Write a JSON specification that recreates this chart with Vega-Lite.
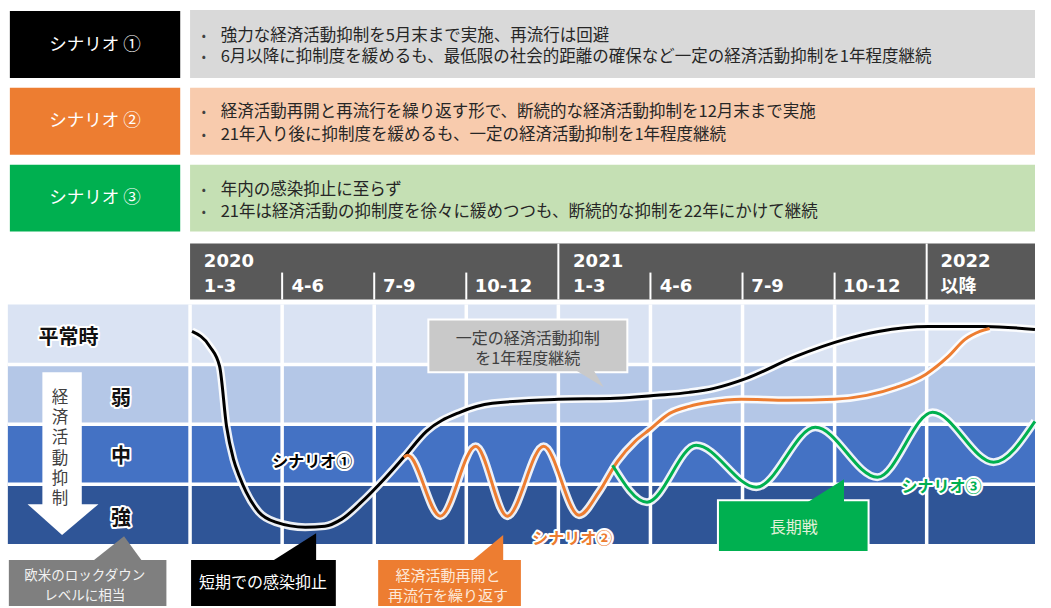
{
"$schema":"https://vega.github.io/schema/vega-lite/v6.json",
"width":1051,"height":608,
"autosize":{"type":"fit","contains":"padding"},
"padding":0,
"background":"#ffffff",
"config":{"view":{"stroke":null},"font":"Noto Sans CJK JP"},
"encoding":{
 "x":{"field":"q","type":"quantitative","scale":{"domain":[-2.0642,9.1765],"nice":false,"zero":false},"axis":null},
 "y":{"field":"lv","type":"quantitative","scale":{"domain":[-1.05,9.0833],"nice":false,"zero":false},"axis":null}
},
"layer":[
 {"data":{"values":[
  {"part":"lab1","q":-1.957,"q2":-0.107,"lv":7.783,"lv2":8.9},
  {"part":"desc1","q":0,"q2":9.1765,"lv":7.783,"lv2":8.917},
  {"part":"lab2","q":-1.957,"q2":-0.107,"lv":6.5,"lv2":7.617},
  {"part":"desc2","q":0,"q2":9.1765,"lv":6.5,"lv2":7.617},
  {"part":"lab3","q":-1.957,"q2":-0.107,"lv":5.217,"lv2":6.333},
  {"part":"desc3","q":0,"q2":9.1765,"lv":5.217,"lv2":6.333},
  {"part":"header","q":0,"q2":9.1765,"lv":4.083,"lv2":5.017},
  {"part":"band1","q":-1.979,"q2":9.1765,"lv":0,"lv2":1},
  {"part":"band2","q":-1.979,"q2":9.1765,"lv":1,"lv2":2},
  {"part":"band3","q":-1.979,"q2":9.1765,"lv":2,"lv2":3},
  {"part":"band4","q":-1.979,"q2":9.1765,"lv":3,"lv2":4}
 ]},
 "mark":{"type":"rect"},
 "encoding":{"x2":{"field":"q2"},"y2":{"field":"lv2"},
  "fill":{"field":"part","type":"nominal","legend":null,"scale":{
   "domain":["lab1","lab2","lab3","desc1","desc2","desc3","header","band1","band2","band3","band4","noteA","noteB","noteC","noteD","noteE"],
   "range":["#000000","#ed7d31","#00b050","#d9d9d9","#f8cbad","#c5e0b4","#595959","#2f5597","#4472c4","#b4c7e7","#dae3f3","#c9c9c9","#7f7f7f","#000000","#ed7d31","#00b050"]}}}},
 {"data":{"values":[
  {"q":0,"q2":0,"lv":0,"lv2":4},{"q":1,"q2":1,"lv":0,"lv2":4},{"q":2,"q2":2,"lv":0,"lv2":4},
  {"q":3,"q2":3,"lv":0,"lv2":4},{"q":4,"q2":4,"lv":0,"lv2":4},{"q":5,"q2":5,"lv":0,"lv2":4},
  {"q":6,"q2":6,"lv":0,"lv2":4},{"q":7,"q2":7,"lv":0,"lv2":4},{"q":8,"q2":8,"lv":0,"lv2":4},
  {"q":-1.979,"q2":9.1765,"lv":1,"lv2":1},{"q":-1.979,"q2":9.1765,"lv":2,"lv2":2},{"q":-1.979,"q2":9.1765,"lv":3,"lv2":3}
 ]},
 "mark":{"type":"rule","color":"#ffffff","strokeWidth":3.5},
 "encoding":{"x2":{"field":"q2"},"y2":{"field":"lv2"}}},
 {"data":{"values":[
  {"q":1,"q2":1,"lv":4.083,"lv2":4.533},{"q":2,"q2":2,"lv":4.083,"lv2":4.533},{"q":3,"q2":3,"lv":4.083,"lv2":4.533},
  {"q":5,"q2":5,"lv":4.083,"lv2":4.533},{"q":6,"q2":6,"lv":4.083,"lv2":4.533},{"q":7,"q2":7,"lv":4.083,"lv2":4.533},
  {"q":4,"q2":4,"lv":4.083,"lv2":5.017},{"q":8,"q2":8,"lv":4.083,"lv2":5.017}
 ]},
 "mark":{"type":"rule","color":"#ffffff","strokeWidth":2},
 "encoding":{"x2":{"field":"q2"},"y2":{"field":"lv2"}}},
 {"data":{"values":[{"q":-1.604,"q2":-1.176,"lv":0.65,"lv2":2.867}]},
 "mark":{"type":"rect","color":"#ffffff"},
 "encoding":{"x2":{"field":"q2"},"y2":{"field":"lv2"}}},
 {"data":{"values":[{"q":-1.765,"q2":-0.995,"lv":0.667},{"q":-1.39,"q2":-1.39,"lv":0.15}]},
 "mark":{"type":"area","orient":"horizontal","color":"#ffffff"},
 "encoding":{"x2":{"field":"q2"}}},
 {"data":{"values":[
  {"q":-1.032,"lv":8.333,"t":"シナリオ ①"},{"q":-1.032,"lv":7.058,"t":"シナリオ ②"},{"q":-1.032,"lv":5.775,"t":"シナリオ ③"}
 ]},
 "mark":{"type":"text","color":"#ffffff","fontSize":17.5,"align":"center","baseline":"middle"},
 "encoding":{"text":{"field":"t"}}},
 {"data":{"values":[
  {"q":0.15,"lv":8.483},{"q":0.15,"lv":8.125},{"q":0.15,"lv":7.208},{"q":0.15,"lv":6.833},{"q":0.15,"lv":5.908},{"q":0.15,"lv":5.542}
 ]},
 "mark":{"type":"text","color":"#404040","fontSize":12,"align":"center","baseline":"middle","text":"•"}},
 {"data":{"values":[
  {"q":0.332,"lv":8.483,"t":"強力な経済活動抑制を5月末まで実施、再流行は回避"},
  {"q":0.332,"lv":8.125,"t":"6月以降に抑制度を緩めるも、最低限の社会的距離の確保など一定の経済活動抑制を1年程度継続"},
  {"q":0.332,"lv":7.208,"t":"経済活動再開と再流行を繰り返す形で、断続的な経済活動抑制を12月末まで実施"},
  {"q":0.332,"lv":6.833,"t":"21年入り後に抑制度を緩めるも、一定の経済活動抑制を1年程度継続"},
  {"q":0.332,"lv":5.908,"t":"年内の感染抑止に至らず"},
  {"q":0.332,"lv":5.542,"t":"21年は経済活動の抑制度を徐々に緩めつつも、断続的な抑制を22年にかけて継続"}
 ]},
 "mark":{"type":"text","color":"#262626","fontSize":16.5,"align":"left","baseline":"middle"},
 "encoding":{"text":{"field":"t"}}},
 {"data":{"values":[
  {"q":0.15,"lv":4.717,"t":"2020"},{"q":4.16,"lv":4.717,"t":"2021"},{"q":8.15,"lv":4.717,"t":"2022"},
  {"q":0.15,"lv":4.3,"t":"1-3"},{"q":1.102,"lv":4.3,"t":"4-6"},{"q":2.096,"lv":4.3,"t":"7-9"},{"q":3.091,"lv":4.3,"t":"10-12"},
  {"q":4.16,"lv":4.3,"t":"1-3"},{"q":5.102,"lv":4.3,"t":"4-6"},{"q":6.096,"lv":4.3,"t":"7-9"},{"q":7.091,"lv":4.3,"t":"10-12"},
  {"q":8.15,"lv":4.3,"t":"以降"}
 ]},
 "mark":{"type":"text","color":"#ffffff","fontSize":18,"fontWeight":"bold","font":"DejaVu Sans, Noto Sans CJK JP","align":"left","baseline":"middle"},
 "encoding":{"text":{"field":"t"}}},
 {"data":{"values":[
  {"q":-1.321,"lv":3.433,"t":"平常時"},{"q":-0.749,"lv":2.417,"t":"弱"},{"q":-0.749,"lv":1.45,"t":"中"},{"q":-0.749,"lv":0.417,"t":"強"}
 ]},
 "mark":{"type":"text","color":"#ffffff","stroke":"#ffffff","strokeWidth":4,"strokeJoin":"round","fontSize":20,"fontWeight":"bold","align":"center","baseline":"middle"},
 "encoding":{"text":{"field":"t"}}},
 {"data":{"values":[
  {"q":-1.321,"lv":3.433,"t":"平常時"},{"q":-0.749,"lv":2.417,"t":"弱"},{"q":-0.749,"lv":1.45,"t":"中"},{"q":-0.749,"lv":0.417,"t":"強"}
 ]},
 "mark":{"type":"text","color":"#111111","fontSize":20,"fontWeight":"bold","align":"center","baseline":"middle"},
 "encoding":{"text":{"field":"t"}}},
 {"data":{"values":[{"q":-1.412,"lv":2.442,"t":"経\n済\n活\n動\n抑\n制"}]},
 "mark":{"type":"text","color":"#404040","fontSize":16.5,"align":"center","baseline":"middle","lineBreak":"\n","lineHeight":20.3},
 "encoding":{"text":{"field":"t"}}},
 {"data":{"name":"curves","values":[
  {"s":"シナリオ①","q":0.021,"lv":3.55},{"s":"シナリオ①","q":0.214,"lv":3.3},{"s":"シナリオ①","q":0.321,"lv":2.967},
  {"s":"シナリオ①","q":0.396,"lv":1.967},{"s":"シナリオ①","q":0.471,"lv":1.417},{"s":"シナリオ①","q":0.535,"lv":1.133},
  {"s":"シナリオ①","q":0.61,"lv":0.867},{"s":"シナリオ①","q":0.749,"lv":0.533},{"s":"シナリオ①","q":0.93,"lv":0.367},
  {"s":"シナリオ①","q":1.251,"lv":0.283},{"s":"シナリオ①","q":1.465,"lv":0.3},{"s":"シナリオ①","q":1.647,"lv":0.417},
  {"s":"シナリオ①","q":1.861,"lv":0.7},{"s":"シナリオ①","q":2.107,"lv":1.083},{"s":"シナリオ①","q":2.321,"lv":1.45},
  {"s":"シナリオ①","q":2.567,"lv":1.883},{"s":"シナリオ①","q":2.93,"lv":2.2},{"s":"シナリオ①","q":3.283,"lv":2.35},
  {"s":"シナリオ①","q":4.0,"lv":2.417},{"s":"シナリオ①","q":4.62,"lv":2.433},{"s":"シナリオ①","q":5.07,"lv":2.483},
  {"s":"シナリオ①","q":5.422,"lv":2.533},{"s":"シナリオ①","q":5.69,"lv":2.6},{"s":"シナリオ①","q":6.043,"lv":2.767},
  {"s":"シナリオ①","q":6.578,"lv":3.133},{"s":"シナリオ①","q":7.112,"lv":3.417},{"s":"シナリオ①","q":7.476,"lv":3.55},
  {"s":"シナリオ①","q":8.021,"lv":3.633},{"s":"シナリオ①","q":8.631,"lv":3.633},{"s":"シナリオ①","q":9.176,"lv":3.583},
  {"s":"シナリオ②","q":2.321,"lv":1.45},{"s":"シナリオ②","q":2.364,"lv":1.483},{"s":"シナリオ②","q":2.717,"lv":0.467},
  {"s":"シナリオ②","q":3.102,"lv":1.633},{"s":"シナリオ②","q":3.444,"lv":0.467},{"s":"シナリオ②","q":3.84,"lv":1.633},
  {"s":"シナリオ②","q":4.225,"lv":0.483},{"s":"シナリオ②","q":4.439,"lv":0.867},{"s":"シナリオ②","q":4.642,"lv":1.383},
  {"s":"シナリオ②","q":4.834,"lv":1.717},{"s":"シナリオ②","q":4.995,"lv":1.917},{"s":"シナリオ②","q":5.209,"lv":2.183},
  {"s":"シナリオ②","q":5.422,"lv":2.3},{"s":"シナリオ②","q":5.636,"lv":2.367},{"s":"シナリオ②","q":5.989,"lv":2.417},
  {"s":"シナリオ②","q":6.492,"lv":2.4},{"s":"シナリオ②","q":6.995,"lv":2.417},{"s":"シナリオ②","q":7.348,"lv":2.483},
  {"s":"シナリオ②","q":7.668,"lv":2.617},{"s":"シナリオ②","q":7.989,"lv":2.833},{"s":"シナリオ②","q":8.235,"lv":3.133},
  {"s":"シナリオ②","q":8.417,"lv":3.417},{"s":"シナリオ②","q":8.578,"lv":3.55},{"s":"シナリオ②","q":8.684,"lv":3.6},
  {"s":"シナリオ③","q":4.588,"lv":1.317},{"s":"シナリオ③","q":4.963,"lv":0.7},{"s":"シナリオ③","q":5.497,"lv":1.65},
  {"s":"シナリオ③","q":6.15,"lv":0.95},{"s":"シナリオ③","q":6.791,"lv":1.95},{"s":"シナリオ③","q":7.465,"lv":1.117},
  {"s":"シナリオ③","q":8.064,"lv":2.2},{"s":"シナリオ③","q":8.727,"lv":1.367},{"s":"シナリオ③","q":9.176,"lv":2.05}
 ]},
 "mark":{"type":"line","interpolate":"monotone","color":"#ffffff","strokeWidth":8,"opacity":0.9},
 "encoding":{"detail":{"field":"s","type":"nominal"}}},
 {"data":{"name":"curves"},
 "mark":{"type":"line","interpolate":"monotone","strokeWidth":3},
 "encoding":{"stroke":{"field":"s","type":"nominal","legend":null,"scale":{"domain":["シナリオ①","シナリオ②","シナリオ③"],"range":["#000000","#ed7d31","#00b050"]}}}},
 {"data":{"values":[
  {"part":"noteA","q":2.588,"q2":4.749,"lv":2.867,"lv2":3.75},
  {"part":"noteB","q":-1.979,"q2":-0.246,"lv":-1.05,"lv2":-0.25},
  {"part":"noteC","q":0,"q2":1.594,"lv":-1.05,"lv2":-0.25},
  {"part":"noteD","q":2.032,"q2":3.604,"lv":-1.05,"lv2":-0.25},
  {"part":"noteE","q":5.733,"q2":7.369,"lv":-0.133,"lv2":0.733}
 ]},
 "mark":{"type":"rect","stroke":"#ffffff","strokeWidth":2},
 "encoding":{"x2":{"field":"q2"},"y2":{"field":"lv2"},
  "fill":{"field":"part","type":"nominal","legend":null}}},
 {"data":{"values":[
  {"part":"noteA","q":4.193,"q2":4.385,"lv":2.9},{"part":"noteA","q":4.492,"q2":4.492,"lv":2.617},
  {"part":"noteB","q":-1.07,"q2":-0.513,"lv":-0.3},{"part":"noteB","q":-0.717,"q2":-0.717,"lv":0.133},
  {"part":"noteC","q":0.877,"q2":1.369,"lv":-0.3},{"part":"noteC","q":1.369,"q2":1.369,"lv":0.183},
  {"part":"noteD","q":3.048,"q2":3.401,"lv":-0.3},{"part":"noteD","q":3.401,"q2":3.401,"lv":0.15},
  {"part":"noteE","q":6.706,"q2":7.102,"lv":0.7},{"part":"noteE","q":7.102,"q2":7.102,"lv":1.083}
 ]},
 "mark":{"type":"area","orient":"horizontal"},
 "encoding":{"x2":{"field":"q2"},"fill":{"field":"part","type":"nominal","legend":null},"detail":{"field":"part","type":"nominal"}}},
 {"data":{"values":[{"q":3.668,"lv":3.417,"t":"一定の経済活動抑制\nを1年程度継続"}]},
 "mark":{"type":"text","color":"#404040","fontSize":16,"align":"center","baseline":"middle","lineBreak":"\n","lineHeight":20},
 "encoding":{"text":{"field":"t"}}},
 {"data":{"values":[{"q":-1.144,"lv":-0.533,"t":"欧米のロックダウン\nレベルに相当"}]},
 "mark":{"type":"text","color":"#f2f2f2","fontSize":13.5,"align":"center","baseline":"middle","lineBreak":"\n","lineHeight":20},
 "encoding":{"text":{"field":"t"}}},
 {"data":{"values":[{"q":0.791,"lv":-0.65,"t":"短期での感染抑止"}]},
 "mark":{"type":"text","color":"#ffffff","fontSize":16,"align":"center","baseline":"middle"},
 "encoding":{"text":{"field":"t"}}},
 {"data":{"values":[{"q":2.802,"lv":-0.533,"t":"経済活動再開と\n再流行を繰り返す"}]},
 "mark":{"type":"text","color":"#fde9d9","fontSize":15,"align":"center","baseline":"middle","lineBreak":"\n","lineHeight":20},
 "encoding":{"text":{"field":"t"}}},
 {"data":{"values":[{"q":6.556,"lv":0.267,"t":"長期戦"}]},
 "mark":{"type":"text","color":"#e2f0d9","fontSize":16,"align":"center","baseline":"middle"},
 "encoding":{"text":{"field":"t"}}},
 {"data":{"name":"curvelabels","values":[
  {"q":1.326,"lv":1.367,"t":"シナリオ①"},{"q":4.15,"lv":0.083,"t":"シナリオ②"},{"q":8.16,"lv":0.95,"t":"シナリオ③"}
 ]},
 "mark":{"type":"text","color":"#ffffff","stroke":"#ffffff","strokeWidth":4,"strokeJoin":"round","fontSize":16,"fontWeight":"bold","align":"center","baseline":"middle"},
 "encoding":{"text":{"field":"t"}}},
 {"data":{"name":"curvelabels"},
 "mark":{"type":"text","fontSize":16,"fontWeight":"bold","align":"center","baseline":"middle"},
 "encoding":{"text":{"field":"t"},"color":{"field":"t","type":"nominal","legend":null,"scale":{"domain":["シナリオ①","シナリオ②","シナリオ③"],"range":["#000000","#ed7d31","#00b050"]}}}}
]
}
